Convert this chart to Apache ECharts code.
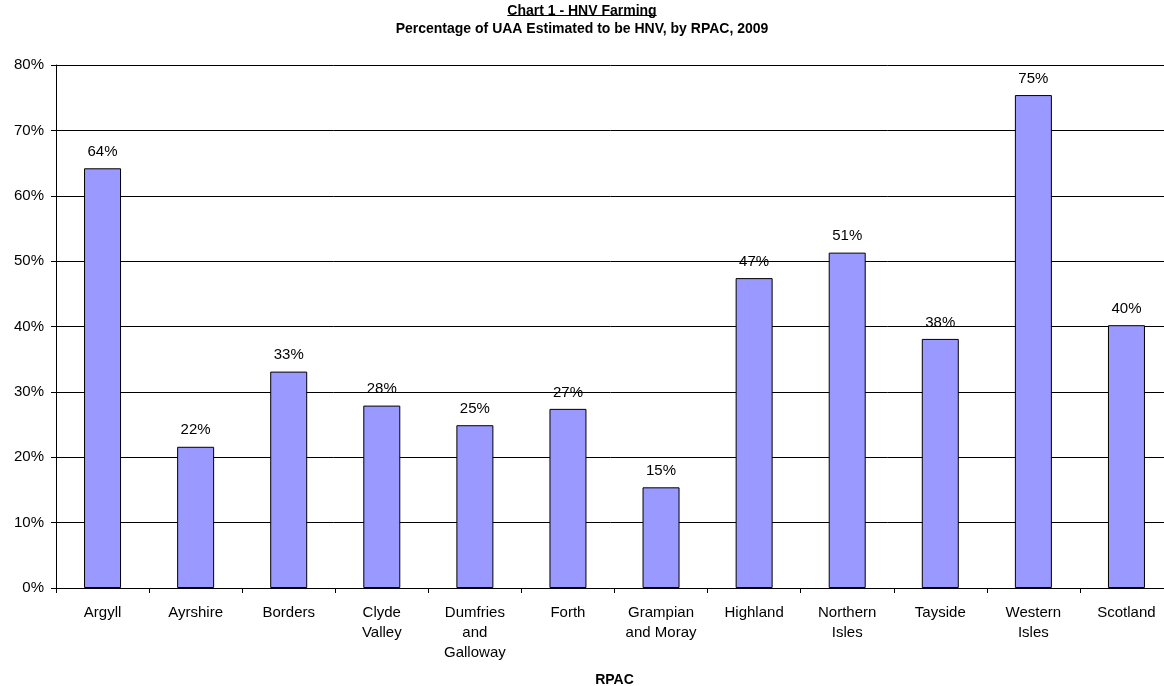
<!DOCTYPE html>
<html>
<head>
<meta charset="utf-8">
<title>HNV Farming</title>
<script type="text/javascript" src="https://cdn.jsdelivr.net/npm/echarts@6/dist/echarts.min.js"></script>
<style>
	html, body { margin: 0; padding: 0; background: #fff; }
	#main { width: 1164px; height: 686px; }
</style>
</head>
<body>
<div id="main"></div>
<script type="text/javascript">
	// RPAC areas, share of UAA estimated to be HNV (%)
	var categories = ['Argyll', 'Ayrshire', 'Borders', 'Clyde\nValley', 'Dumfries\nand\nGalloway', 'Forth',
		'Grampian\nand Moray', 'Highland', 'Northern\nIsles', 'Tayside', 'Western\nIsles', 'Scotland'];
	var hnvShare = [64.2, 21.6, 33.1, 27.9, 24.9, 27.4, 15.4, 47.4, 51.3, 38.1, 75.4, 40.2];
	var yTicks = [0, 10, 20, 30, 40, 50, 60, 70, 80];

	var titleLine1 = 'Chart 1 - HNV Farming';
	var titleLine2 = 'Percentage of UAA Estimated to be HNV, by RPAC, 2009';

	var font = '"Liberation Sans", Arial, sans-serif';

	// width of the first title line, for the underline
	var ctx = document.createElement('canvas').getContext('2d');
	ctx.font = 'bold 14px ' + font;
	var w1 = ctx.measureText(titleLine1).width;

	var myChart = echarts.init(document.getElementById('main'));
	var option = {
		backgroundColor: '#fff',
		animation: false,
		textStyle: { fontFamily: font, color: '#000' },
		title: [{
			text: titleLine1,
			left: 'center',
			top: -1,
			textStyle: { fontSize: 14, fontWeight: 'bold', color: '#000', fontFamily: font }
		}, {
			text: titleLine2,
			left: 'center',
			top: 17,
			textStyle: { fontSize: 14, fontWeight: 'bold', color: '#000', fontFamily: font }
		}],
		graphic: [{
			type: 'line',
			shape: { x1: 582 - w1 / 2, y1: 15.5, x2: 582 + w1 / 2, y2: 15.5 },
			style: { stroke: '#000', lineWidth: 1 }
		}],
		grid: {
			left: 56,
			top: 65,
			width: 1117,
			height: 523,
			outerBoundsMode: 'none',
			containLabel: false
		},
		xAxis: {
			type: 'category',
			data: categories,
			name: 'RPAC',
			nameLocation: 'middle',
			nameGap: 85,
			nameTextStyle: { fontSize: 14, fontWeight: 'bold', color: '#000' },
			axisLine: { lineStyle: { color: '#000', width: 1 } },
			axisTick: { show: true, length: 5, lineStyle: { color: '#000' } },
			axisLabel: {
				fontSize: 15,
				color: '#000',
				lineHeight: 20,
				margin: 15,
				interval: 0
			}
		},
		yAxis: {
			type: 'value',
			min: 0,
			max: 80,
			interval: 10,
			axisLine: { show: true, lineStyle: { color: '#000', width: 1 } },
			axisTick: { show: true, length: 5, lineStyle: { color: '#000' } },
			axisLabel: {
				fontSize: 15,
				color: '#000',
				margin: 12,
				formatter: function (v) { return yTicks.indexOf(v) >= 0 ? v + '%' : ''; }
			},
			splitLine: { show: true, lineStyle: { color: '#000', width: 1 } }
		},
		series: [{
			type: 'bar',
			data: hnvShare,
			barWidth: 37,
			itemStyle: { color: '#9999FF', borderColor: '#000', borderWidth: 1 },
			label: {
				show: true,
				position: 'top',
				distance: 9,
				fontSize: 15,
				color: '#000',
				formatter: function (p) { return Math.round(p.value) + '%'; }
			}
		}]
	};
	myChart.setOption(option);
</script>
</body>
</html>
